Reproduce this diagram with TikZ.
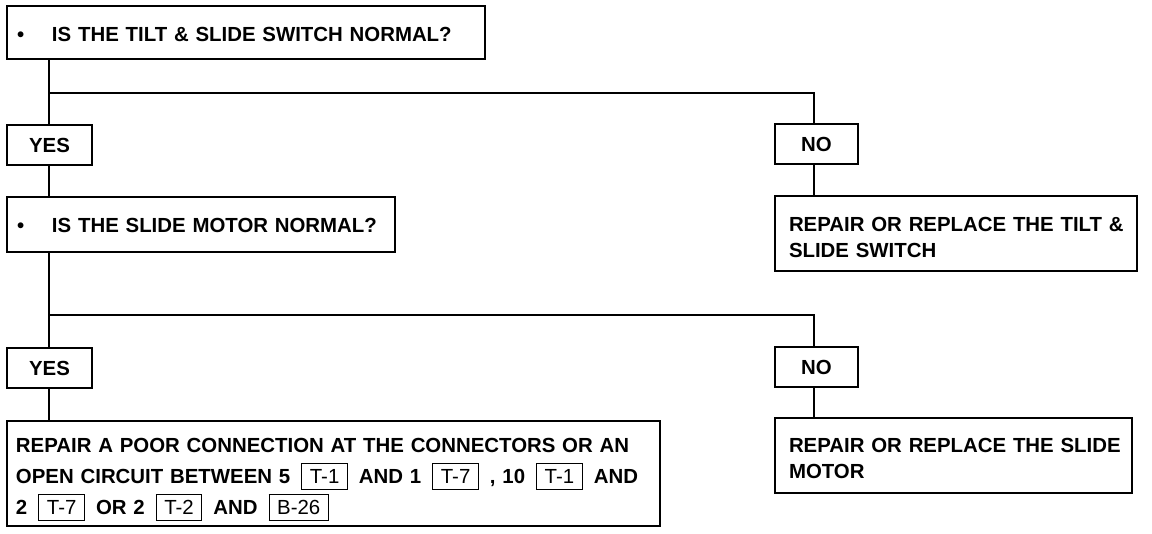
\documentclass[tikz,border=0pt]{standalone}
\usepackage{fontspec}
\setmainfont{Liberation Sans}
\newcommand{\cbx}[1]{{\setlength{\fboxsep}{0pt}\setlength{\fboxrule}{1.1pt}\fbox{\vrule width0pt height 19.5pt depth 5pt\hspace{7.5pt}{\mdseries #1}\hspace{7.5pt}}}}
\newcommand{\gp}{\hspace{11pt}}
\newcommand{\bul}{\makebox[35pt][l]{•}}
\tikzset{
  box/.style={draw, line width=1.2pt, inner ysep=0pt, anchor=center, align=left,
    font=\bfseries\fontsize{20.4pt}{26pt}\selectfont},
  ans/.style={box, align=center, inner xsep=0pt, minimum width=83pt, minimum height=40pt},
  link/.style={line width=1.4pt}
}
\begin{document}
\begin{tikzpicture}[x=1pt,y=-1pt]
\useasboundingbox (0,0) rectangle (1152,534);
% question boxes
\node[box, minimum width=478pt, minimum height=53pt, inner xsep=10pt, text width=458pt] (Q1) at (246,32.5) {\rule{0pt}{18.5pt}\bul IS THE TILT \& SLIDE SWITCH NORMAL?};
\node[ans, minimum width=85pt] (Y1) at (49.5,145) {YES};
\node[box, minimum width=388pt, minimum height=55pt, inner xsep=10pt, text width=368pt] (Q2) at (201,224.5) {\rule{0pt}{17pt}\bul IS THE SLIDE MOTOR NORMAL?};
\node[ans, minimum width=85pt] (Y2) at (49.5,368) {YES};
\node[box, minimum width=653pt, minimum height=105pt, inner xsep=9pt, text width=635pt,
  font=\bfseries\fontsize{20.4pt}{31pt}\selectfont] (A2) at (333.5,473.5)
  {\rule{0pt}{27pt}\mbox{REPAIR A POOR CONNECTION AT THE CONNECTORS OR AN}\\
   \mbox{OPEN CIRCUIT BETWEEN 5\gp\cbx{T-1}\gp AND 1\gp\cbx{T-7}\gp, 10\gp\cbx{T-1}\gp AND}\\
   \mbox{2\gp\cbx{T-7}\gp OR 2\gp\cbx{T-2}\gp AND\gp\cbx{B-26}}};
% right side
\node[ans] (N1) at (816.5,144) {NO};
\node[box, minimum width=362pt, minimum height=75pt, inner xsep=14pt, text width=334pt] (R1) at (956,233.5)
  {\rule{0pt}{21.5pt}\mbox{REPAIR OR REPLACE THE TILT \&}\\\mbox{SLIDE SWITCH}};
\node[ans] (N2) at (816.5,367) {NO};
\node[box, minimum width=357pt, minimum height=75pt, inner xsep=14pt, text width=329pt] (R2) at (953.5,455.5)
  {\rule{0pt}{20.5pt}\mbox{REPAIR OR REPLACE THE SLIDE}\\\mbox{MOTOR}};
% guide coordinates
\coordinate (tk) at (49,0);
\coordinate (b1) at (814,93);
\coordinate (b2) at (814,315);
% connectors
\draw[link] (tk |- Q1.south) -- (tk |- Y1.north);
\draw[link] (b1 -| tk) -- (b1) -- (b1 |- N1.north);
\draw[link] (tk |- Y1.south) -- (tk |- Q2.north);
\draw[link] (b1 |- N1.south) -- (b1 |- R1.north);
\draw[link] (tk |- Q2.south) -- (tk |- Y2.north);
\draw[link] (b2 -| tk) -- (b2) -- (b2 |- N2.north);
\draw[link] (tk |- Y2.south) -- (tk |- A2.north);
\draw[link] (b2 |- N2.south) -- (b2 |- R2.north);
\end{tikzpicture}
\end{document}
